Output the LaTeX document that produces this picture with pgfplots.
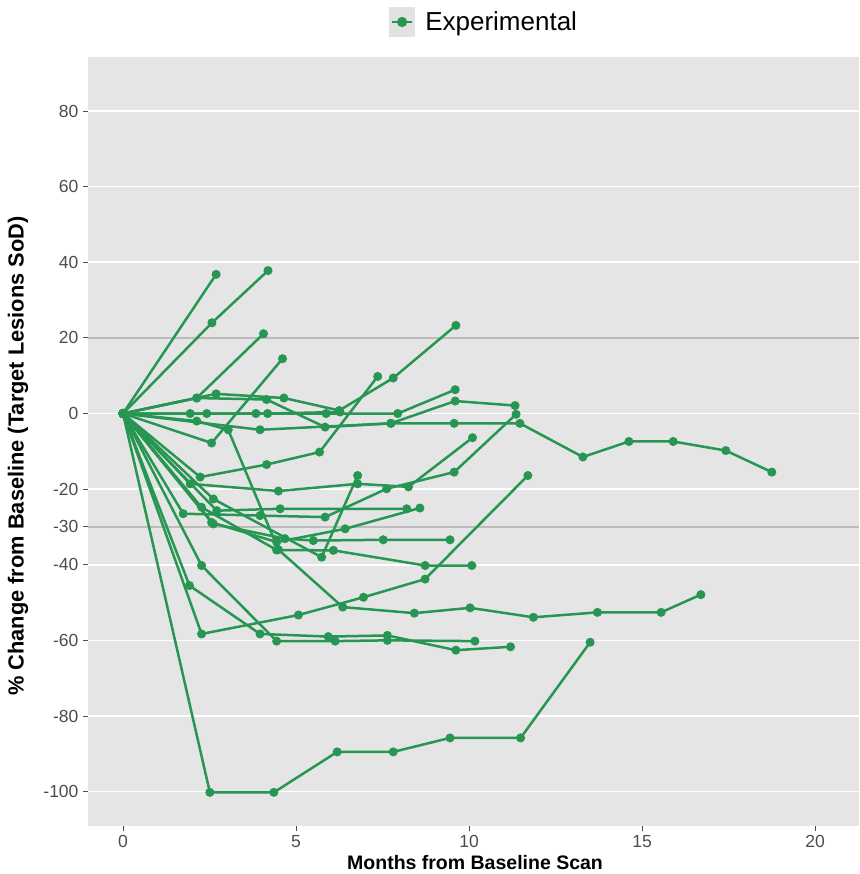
\documentclass[border=0pt]{standalone}
\usepackage{fontspec}
\setmainfont{Liberation Sans}
\usepackage{pgfplots}
\pgfplotsset{compat=1.18}

\definecolor{armgreen}{RGB}{38,150,82}
\definecolor{panelgrey}{RGB}{229,229,229}
\definecolor{keygrey}{RGB}{226,226,226}
\definecolor{refgrey}{RGB}{188,188,188}
\definecolor{ticktext}{RGB}{77,77,77}

\pgfplotsset{
  patient/.style={armgreen, line width=2.5pt, mark=*, mark size=3.2pt,
    mark options={solid, fill=armgreen, draw=none}, forget plot},
}

\begin{document}
\begin{tikzpicture}[x=1pt,y=1pt]
\begin{axis}[
  at={(0,0)}, anchor=south west,
  scale only axis, width=771pt, height=769pt,
  xmin=-1.012, xmax=21.27, ymin=-109.1, ymax=94.3,
  axis background/.style={fill=panelgrey},
  axis line style={draw=none},
  xtick={0,5,10,15,20}, xticklabels={0,5,10,15,20},
  ytick={-100,-80,-60,-40,-30,-20,0,20,40,60,80},
  yticklabels={-100,-80,-60,-40,-30,-20,0,20,40,60,80},
  xtick pos=bottom, ytick pos=left,
  tick align=outside, major tick length=5pt,
  tick style={ticktext, line width=0.9pt},
  ticklabel style={font=\fontsize{17.5}{17.5}\selectfont, text=ticktext},
  xticklabel style={yshift=-1pt},
  yticklabel style={xshift=-1pt},
  ymajorgrids, grid style={white, line width=1.6pt},
  clip=false,
  xlabel={\bfseries Months from Baseline Scan},
  ylabel={\bfseries \% Change from Baseline (Target Lesions SoD)},
  every axis x label/.style={at={(axis description cs:0.502,-0.047)}, anchor=center,
    font=\fontsize{19.5}{19.5}\selectfont},
  every axis y label/.style={at={(axis description cs:-0.0908,0.481)}, anchor=center, rotate=90,
    font=\fontsize{21.8}{21.8}\selectfont},
  legend style={at={(axis description cs:0.386,1.0455)}, anchor=west, draw=none, fill=none,
    font=\fontsize{26}{26}\selectfont, nodes={inner sep=0pt}},
  legend image code/.code={
    \fill[keygrey] (0pt,-14pt) rectangle (24pt,14pt);
    \draw[armgreen, line width=2.5pt] (2pt,0pt) -- (22pt,0pt);
    \fill[armgreen] (12pt,0pt) circle (3.8pt);
  },
]
% reference levels at +20% and -30%
\draw[refgrey, line width=1.6pt] (axis cs:-1.012,20) -- (axis cs:21.27,20);
\draw[refgrey, line width=1.6pt] (axis cs:-1.012,-30) -- (axis cs:21.27,-30);

\addplot[armgreen, line width=2.5pt, mark=*, mark size=3.2pt, mark options={solid, fill=armgreen, draw=none}]
  coordinates {(0,0) (2.69,36.8)};
\addlegendentry{\hspace{10pt}Experimental}

\addplot[patient] coordinates {(0,0) (2.57,24) (4.19,37.8)};
\addplot[patient] coordinates {(0,0) (2.13,4.1) (4.06,21.1)};
\addplot[patient] coordinates {(0,0) (2.56,-7.8) (4.61,14.5)};
\addplot[patient] coordinates {(0,0) (2.69,5.2) (4.65,4.1) (6.25,0.8) (7.81,9.4) (9.62,23.3)};
\addplot[patient] coordinates {(0,0) (2.13,4.1) (4.15,3.7) (5.84,-3.6) (7.74,-2.6) (9.6,3.3) (11.33,2.1)};
\addplot[patient] coordinates {(0,0) (2.13,-2) (3.04,-4.3) (4.49,-36) (6.35,-51.2) (8.42,-52.8) (10.03,-51.4) (11.86,-53.9) (13.71,-52.6) (15.55,-52.6) (16.7,-47.9)};
\addplot[patient] coordinates {(0,0) (1.94,0) (3.84,0) (5.87,0) (7.94,0) (9.6,6.3)};
\addplot[patient] coordinates {(0,0) (2.42,0) (4.18,0) (6.27,0.4)};
\addplot[patient] coordinates {(0,0) (3.96,-4.3) (7.74,-2.6) (9.57,-2.6) (11.47,-2.6) (13.29,-11.5) (14.62,-7.4) (15.9,-7.4) (17.42,-9.8) (18.75,-15.5)};
\addplot[patient] coordinates {(0,0) (1.94,-18.6) (4.49,-20.5) (6.78,-18.6) (8.25,-19.4) (10.1,-6.4)};
\addplot[patient] coordinates {(0,0) (2.23,-16.8) (4.15,-13.5) (5.68,-10.2) (7.36,9.8)};
\addplot[patient] coordinates {(0,0) (1.74,-26.5) (3.96,-27) (5.84,-27.4) (7.62,-19.9) (9.57,-15.5) (11.36,-0.2)};
\addplot[patient] coordinates {(0,0) (2.61,-22.6) (5.74,-38) (6.78,-16.4)};
\addplot[patient] coordinates {(0,0) (2.71,-25.7) (4.54,-25.2) (8.2,-25.2)};
\addplot[patient] coordinates {(0,0) (2.56,-28.8) (4.44,-34) (6.42,-30.5) (8.58,-25)};
\addplot[patient] coordinates {(0,0) (2.61,-29.2) (4.68,-33.1) (5.5,-33.6) (7.52,-33.4) (9.45,-33.4)};
\addplot[patient] coordinates {(0,0) (2.27,-24.8) (4.44,-36.1) (6.08,-36.2) (8.73,-40.2) (10.08,-40.2)};
\addplot[patient] coordinates {(0,0) (1.92,-45.5) (3.96,-58.3) (5.93,-59) (7.64,-58.7) (9.62,-62.6) (11.2,-61.7)};
\addplot[patient] coordinates {(0,0) (2.27,-40.2) (4.44,-60.2) (6.13,-60.2) (7.64,-60) (10.17,-60.2)};
\addplot[patient] coordinates {(0,0) (2.27,-58.3) (5.07,-53.3) (6.95,-48.6) (8.73,-43.8) (11.7,-16.4)};
\addplot[patient] coordinates {(0,0) (2.51,-100.2) (4.36,-100.2) (6.19,-89.5) (7.81,-89.5) (9.45,-85.8) (11.49,-85.8) (13.5,-60.5)};
\end{axis}
\pgfresetboundingbox
\path (-88pt,-48pt) rectangle (771pt,826pt);
\end{tikzpicture}
\end{document}
